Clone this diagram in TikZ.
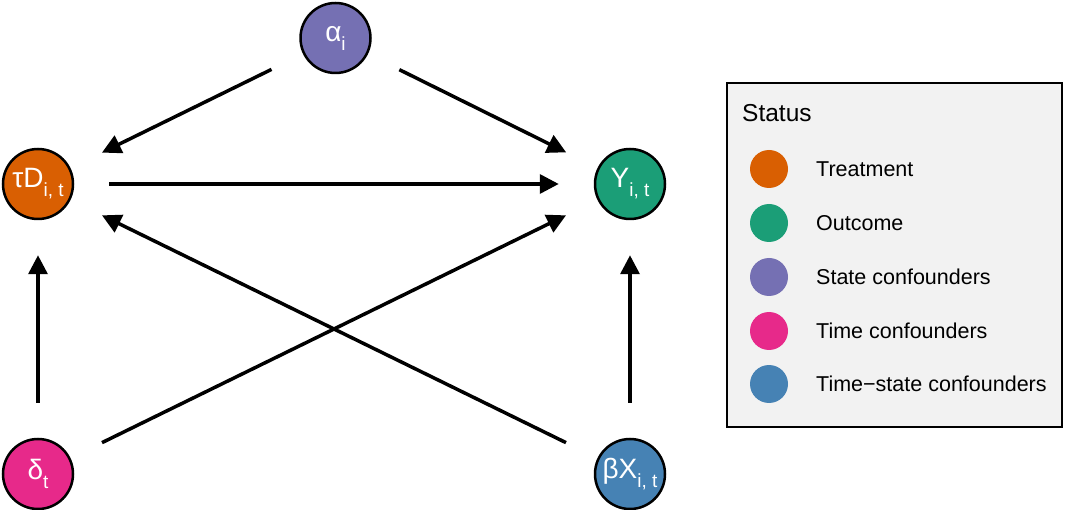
\documentclass[tikz,border=0pt]{standalone}
\usepackage{fontspec}
\setmainfont{Liberation Sans}
\usetikzlibrary{arrows.meta}
\definecolor{treatc}{HTML}{D95F02}
\definecolor{outc}{HTML}{1B9E77}
\definecolor{statec}{HTML}{7570B3}
\definecolor{timec}{HTML}{E7298A}
\definecolor{tsc}{HTML}{4682B4}
\definecolor{legbg}{HTML}{F2F2F2}
\newcommand{\nsub}[1]{\raisebox{-0.32em}{\fontsize{19}{21}\selectfont #1}}
\begin{document}
\begin{tikzpicture}[x=1pt,y=-1pt,
  dagnode/.style={circle,draw=black,line width=2.5pt,minimum size=70pt,inner sep=0pt,text=white,font=\fontsize{28}{30}\selectfont},
  edge/.style={line width=3.5pt,-{Triangle[length=19pt,width=19pt]},shorten <=35pt,shorten >=35pt},
  legdot/.style={circle,minimum size=38pt,inner sep=0pt},
  leglabel/.style={anchor=base west,inner sep=0pt,font=\fontsize{21.5}{24}\selectfont}]
\useasboundingbox (0,0) rectangle (1065,510);
% DAG nodes
\node[dagnode,fill=statec] (a) at (335.5,38) {α\nsub{i}};
\node[dagnode,fill=treatc] (d) at (38,184) {τD\nsub{i, t}};
\node[dagnode,fill=outc] (y) at (630,184) {Y\nsub{i, t}};
\node[dagnode,fill=timec] (t) at (38,474) {δ\nsub{t}};
\node[dagnode,fill=tsc] (x) at (630,474) {βX\nsub{i, t}};
% edges
\draw[edge] (a) -- (d);
\draw[edge] (a) -- (y);
\draw[edge] (d) -- (y);
\draw[edge] (t) -- (d);
\draw[edge] (t) -- (y);
\draw[edge] (x) -- (d);
\draw[edge] (x) -- (y);
% legend
\node[draw=black,line width=2pt,fill=legbg,minimum width=335pt,minimum height=344pt,inner sep=0pt] (legend) at (894.5,255) {};
\node[anchor=base west,inner sep=0pt,font=\fontsize{24.5}{28}\selectfont] (title) at (742,121.5) {Status};
\node[legdot,fill=treatc] (l1) at (769,169) {};
\node[legdot,fill=outc] (l2) at (769,223) {};
\node[legdot,fill=statec] (l3) at (769,277) {};
\node[legdot,fill=timec] (l4) at (769,331) {};
\node[legdot,fill=tsc] (l5) at (769,384) {};
\node[leglabel] (t1) at (816,176.7) {Treatment};
\node[leglabel] (t2) at (816,230.7) {Outcome};
\node[leglabel] (t3) at (816,284.7) {State confounders};
\node[leglabel] (t4) at (816,338.7) {Time confounders};
\node[leglabel] (t5) at (816,391.7) {Time−state confounders};
\end{tikzpicture}
\end{document}
